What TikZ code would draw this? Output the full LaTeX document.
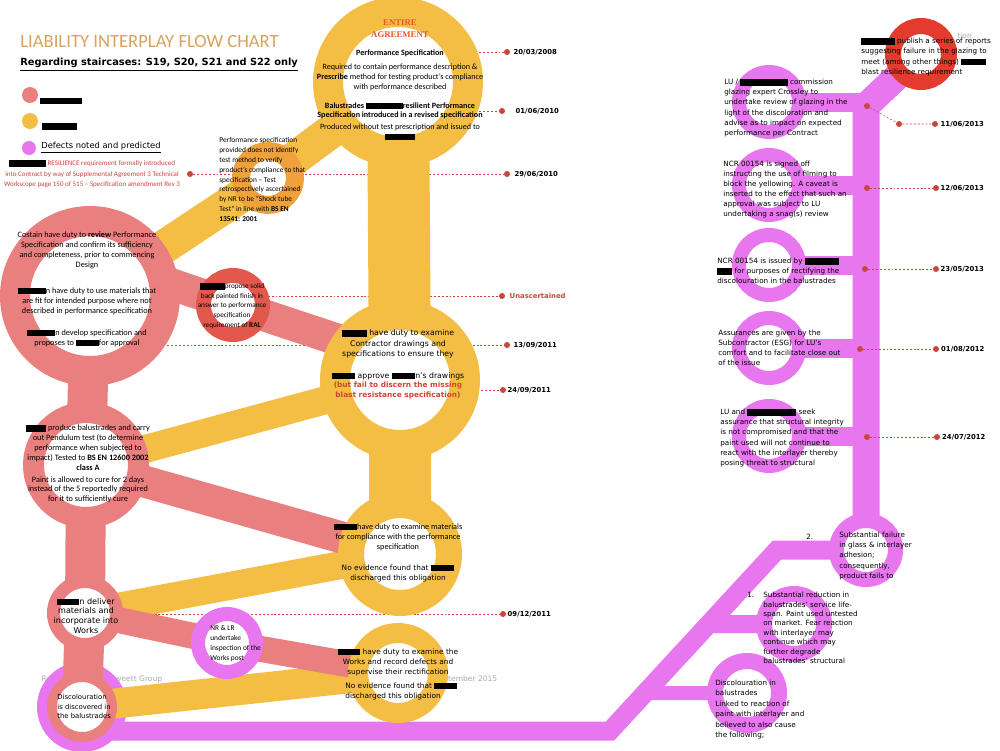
\documentclass[tikz,border=0pt]{standalone}
\usepackage{fontspec}
\setmainfont{Carlito}
\newfontfamily\verd{DejaVu Sans}
\newfontfamily\tms{Liberation Serif}
\usetikzlibrary{positioning,calc}
\definecolor{salmon}{HTML}{EA7F7F}
\definecolor{amber}{HTML}{F4BE45}
\definecolor{magen}{HTML}{E776EF}
\definecolor{redring}{HTML}{E33B2D}
\definecolor{redsmall}{HTML}{E2584C}
\definecolor{orng}{HTML}{EFA23C}
\definecolor{tan}{HTML}{D9A25E}
\definecolor{datered}{HTML}{C9463C}
\definecolor{warnred}{HTML}{D8412F}
\definecolor{wmark}{HTML}{ABABAB}
\definecolor{agree}{HTML}{E2592B}
\newcommand{\redact}[1]{{\color{black}\rule[-0.25mm]{#1}{1.35mm}}}
\pgfdeclarelayer{under}
\pgfdeclarelayer{bands}
\pgfsetlayers{under,bands,main}
\tikzset{
    ring/.style n args={3}{circle, draw=#1, fill=white, minimum size=(#2+#3)*0.2mm, line width=(#2-#3)*0.2mm, inner sep=0pt, outer sep=0pt},
    blob/.style 2 args={circle, fill=#1, minimum size=#2*0.4mm, inner sep=0pt, outer sep=0pt},
    yband/.style={draw=amber, line width=#1*0.2mm},
    sband/.style={draw=salmon, line width=#1*0.2mm},
    mband/.style={draw=magen, line width=#1*0.2mm},
    lead/.style={draw=datered, dash pattern=on 1.1pt off 1.1pt, line width=0.3pt},
    dot/.style={circle, fill=datered, minimum size=1.2mm, inner sep=0pt},
    datetxt/.style={anchor=west, inner sep=0pt, font=\verd\bfseries\fontsize{3.9}{5}\selectfont},
    cal/.style 2 args={inner sep=0pt, align=center, font=\fontsize{#1}{#2}\selectfont},
    calb/.style 2 args={inner sep=0pt, align=center, font=\bfseries\fontsize{#1}{#2}\selectfont},
    ver/.style 2 args={inner sep=0pt, align=center, font=\verd\fontsize{#1}{#2}\selectfont},
    verbold/.style 2 args={inner sep=0pt, align=center, font=\verd\bfseries\fontsize{#1}{#2}\selectfont},
    rtxt/.style={ver={4.1}{5.7}, align=left, anchor=west}
}
\begin{document}
\begin{tikzpicture}[x=0.2mm, y=-0.2mm]
        \useasboundingbox (0,0) rectangle (1000,750);

        % Title and legend
        \node (title) [anchor=west, inner sep=0pt, text=tan, font=\fontsize{10.6}{12}\selectfont] at (20,42) {LIABILITY INTERPLAY FLOW CHART};
        \node (subtitle) [anchor=west, inner sep=0pt, font=\verd\bfseries\fontsize{5.6}{6}\selectfont] at (20,65) {\underline{Regarding staircases: S19, S20, S21 and S22 only}};
        \node (leg_sal) [blob={salmon}{8}] at (30,95) {};
        \node (leg_amb) [blob={amber}{8}] at (30,121) {};
        \node (leg_mag) [blob={magen}{7}] at (29,148) {};
        \node (leg_sal_txt) [anchor=west, inner sep=0pt] at (40,101) {\redact{8.4mm}};
        \node (leg_amb_txt) [anchor=west, inner sep=0pt] at (42,126.5) {\redact{7mm}};
        \node (leg_mag_txt) [anchor=west, inner sep=0pt, font=\verd\fontsize{4.75}{6}\selectfont] at (41,148) {\underline{Defects noted and predicted}};

        % Amber rings
        \node (top_ring) [ring={amber}{85}{55}] at (398,82) {};
        \node (exam_ring) [ring={amber}{80}{50}] at (400,380) {};
        \node (mat_ring) [ring={amber}{62}{36}] at (400,554) {};
        \node (works_ring) [ring={amber}{50}{30}] at (398,673) {};
        \node (spec_ring) [ring={orng}{36}{18}] at (268,178) {};

        % Salmon rings
        \node (review_ring) [ring={salmon}{90}{60}] at (90,296) {};
        \node (prod_ring) [ring={salmon}{63}{42}] at (86,465) {};
        \node (deliver_ring) [ring={salmon}{38}{25}] at (85,613) {};
        \node (disc_ring) [ring={salmon}{35}{25}] at (82,707) {};
        \node (ral_ring) [ring={redsmall}{37}{22}] at (233,305) {};

        % Magenta rings
        \node (nrlr_ring) [ring={magen}{36}{22}] at (227,643) {};
        \node (luc_ring) [ring={magen}{37}{23}] at (769,102) {};
        \node (signed_ring) [ring={magen}{37}{23}] at (769,185) {};
        \node (issued_ring) [ring={magen}{37}{23}] at (769,265) {};
        \node (assur_ring) [ring={magen}{37}{23}] at (769,348) {};
        \node (seek_ring) [ring={magen}{37}{23}] at (769,436) {};
        \node (fail_ring) [ring={magen}{37}{22}] at (866,550) {};
        \node (reduce_ring) [ring={magen}{38}{22}] at (794,624) {};
        \node (discb_ring) [ring={magen}{40}{24}] at (747,693) {};
        \node (report_ring) [ring={redring}{36}{20}] at (921,54) {};

        % Texts of the amber rings
        \node (agree_txt) [align=center, inner sep=0pt, text=agree, font=\tms\bfseries\fontsize{5}{6.8}\selectfont] at (400,29) {ENTIRE\\AGREEMENT};
        \node (top_txt1) [calb={4.6}{5.7}] at (400,53) {Performance Specification};
        \node (top_txt2) [cal={4.6}{5.7}] at (400,77) {Required to contain performance description \&\\\textbf{Prescribe} method for testing product’s compliance\\with performance described};
        \node (top_txt3) [calb={4.6}{5.1}] at (400,110.5) {Balustrades \redact{7.4mm}resilient Performance\\Specification introduced in a revised specification};
        \node (top_txt4) [cal={4.6}{5.7}] at (400,132) {Produced without test prescription and issued to\\\redact{6mm}};
        \node (spec_txt) [cal={4.2}{5.65}, align=left, anchor=west] at (219,179.5) {Performance specification\\provided does not identify\\test method to verify\\product’s compliance to that\\specification – Test\\retrospectively ascertained\\by NR to be “Shock tube\\Test” in line with \textbf{BS EN}\\\textbf{13541: 2001}};
        \node (exam_txt1) [ver={4.4}{5.9}] at (398,344) {\redact{5mm} have duty to examine\\Contractor drawings and\\specifications to ensure they};
        \node (exam_txt2) [ver={4.4}{5.9}] at (398,376) {\redact{4.7mm} approve \redact{4.7mm}n’s drawings};
        \node (exam_txt3) [verbold={4.2}{5.2}, text=warnred] at (398,390.5) {(but fail to discern the missing\\blast resistance specification)};
        \node (mat_txt1) [cal={4.7}{5.7}] at (398,537) {\redact{4.7mm}have duty to examine materials\\for compliance with the performance\\specification};
        \node (mat_txt2) [ver={4.2}{5.7}] at (398,573) {No evidence found that \redact{4.7mm}\\discharged this obligation};
        \node (works_txt1) [ver={4.2}{5.7}] at (398,662) {\redact{4.5mm} have duty to examine the\\Works and record defects and\\supervise their rectification};
        \node (works_txt2) [ver={4.2}{5.7}, align=left, anchor=west] at (345,691) {No evidence found that \redact{4.5mm}\\discharged this obligation};

        % Texts of the salmon rings
        \node (resil_txt) [cal={4}{6}, text=datered] at (92,174) {\redact{7.4mm} RESILIENCE requirement formally introduced\\into Contract by way of Supplemental Agreement 3 Technical\\Workscope page 150 of 515 – Specification amendment Rev 3};
        \node (review_txt1) [cal={4.7}{5.7}] at (87,250) {Costain have duty to \textbf{review} Performance\\Specification and confirm its sufficiency\\and completeness, prior to commencing\\Design};
        \node (review_txt2) [cal={4.7}{5.7}] at (87,301) {\redact{5.6mm}n have duty to use materials that\\are fit for intended purpose where not\\described in performance specification};
        \node (review_txt3) [cal={4.7}{5.7}] at (87,338) {\redact{5.6mm}n develop specification and\\proposes to \redact{4.6mm}for approval};
        \node (ral_txt) [cal={4.1}{5.5}] at (232,305.5) {\redact{5mm}propose solid\\back painted finish in\\answer to performance\\specification\\requirement of \textbf{RAL}};
        \node (prod_txt1) [cal={4.7}{5.6}] at (88,447.5) {\redact{4mm} produce balustrades and carry\\out Pendulum test (to determine\\performance when subjected to\\impact) Tested to \textbf{BS EN 12600 2002}\\\textbf{class A}};
        \node (prod_txt2) [cal={4.7}{5.5}] at (88,489.5) {Paint is allowed to cure for 2 days\\instead of the 5 reportedly required\\for it to sufficiently cure};
        \node (deliver_txt) [ver={4.6}{5.5}] at (86,615.5) {\redact{4.4mm}n deliver\\materials and\\incorporate into\\Works};
        \node (disc_txt) [ver={3.9}{5.4}, align=left, anchor=west] at (57,706.5) {Discolouration\\is discovered in\\the balustrades};

        % Texts of the magenta rings
        \node (nrlr_txt) [cal={4.2}{5.7}, align=left, anchor=west] at (210,644) {NR \& LR\\undertake\\inspection of the\\Works post};
        \node (report_txt) [rtxt] at (861,57) {\redact{6.7mm} publish a series of reports\\suggesting failure in the glazing to\\meet (among other things) \redact{4.9mm}\\blast resilience requirement};
        \node (luc_txt) [rtxt] at (724,108) {LU / \redact{9.5mm} commission\\glazing expert Crossley to\\undertake review of glazing in the\\light of the discoloration and\\advise as to impact on expected\\performance per Contract};
        \node (signed_txt) [rtxt] at (723,189.5) {NCR 00154 is signed off\\instructing the use of filming to\\block the yellowing. A caveat is\\inserted to the effect that such an\\approval was subject to LU\\undertaking a snag(s) review};
        \node (issued_txt) [rtxt] at (717,271) {NCR 00154 is issued by \redact{6.8mm}\\\redact{3mm} for purposes of rectifying the\\discolouration in the balustrades};
        \node (assur_txt) [rtxt] at (718,348) {Assurances are given by the\\Subcontractor (ESG) for LU’s\\comfort and to facilitate close out\\of the issue};
        \node (seek_txt) [rtxt] at (720,438) {LU and \redact{9.8mm} seek\\assurance that structural integrity\\is not compromised and that the\\paint used will not continue to\\react with the interlayer thereby\\posing threat to structural};
        \node (num2) [rtxt] at (806,537) {2.};
        \node (fail_txt) [rtxt] at (839,556) {Substantial failure\\in glass \& interlayer\\adhesion;\\consequently,\\product fails to};
        \node (num1) [rtxt] at (747,595) {1.};
        \node (reduce_txt) [ver={4.1}{5.36}, align=left, anchor=west] at (763,628) {Substantial reduction in\\balustrades’ service life-\\span. Paint used untested\\on market. Fear reaction\\with interlayer may\\continue which may\\further degrade\\balustrades’ structural};
        \node (discb_txt) [ver={4.1}{6}, align=left, anchor=west] at (715,709.5) {Discolouration in\\balustrades\\Linked to reaction of\\paint with interlayer and\\believed to also cause\\the following;};

        % Dates
        \node (d_res) [dot] at (190,174) {};
        \node (d_2008) [dot] at (507,52) {};
        \node (d_0106) [dot] at (502,111) {};
        \node (d_2906) [dot] at (507,174) {};
        \node (d_unasc) [dot] at (502,296) {};
        \node (d_1309) [dot] at (507,345) {};
        \node (d_2409) [dot] at (503,390) {};
        \node (d_0912) [dot] at (503,614) {};
        \node (t_2008) [datetxt, right=0.6mm of d_2008] {20/03/2008};
        \node (t_0106) [datetxt, right=2mm of d_0106] {01/06/2010};
        \node (t_2906) [datetxt, right=0.8mm of d_2906] {29/06/2010};
        \node (t_unasc) [datetxt, right=0.8mm of d_unasc, text=datered] {Unascertained};
        \node (t_1309) [datetxt, right=0.6mm of d_1309] {13/09/2011};
        \node (t_2409) [datetxt, right=0.2mm of d_2409] {24/09/2011};
        \node (t_0912) [datetxt, right=0.2mm of d_0912] {09/12/2011};
        \node (s_1106) [dot] at (867,106) {};
        \node (m_1106) [dot] at (899,124) {};
        \node (d_1106) [dot] at (935,124) {};
        \node (s_1206) [dot] at (867,188) {};
        \node (d_1206) [dot] at (936,188) {};
        \node (s_2305) [dot] at (865,269) {};
        \node (d_2305) [dot] at (936,269) {};
        \node (s_0108) [dot] at (860,349) {};
        \node (d_0108) [dot] at (936,349) {};
        \node (s_2407) [dot] at (867,437) {};
        \node (d_2407) [dot] at (937,437) {};
        \node (t_1106) [datetxt, right=0.4mm of d_1106] {11/06/2013};
        \node (t_1206) [datetxt, right=0.2mm of d_1206] {12/06/2013};
        \node (t_2305) [datetxt, right=0.2mm of d_2305] {23/05/2013};
        \node (t_0108) [datetxt, right=0.3mm of d_0108] {01/08/2012};
        \node (t_2407) [datetxt, right=0.3mm of d_2407] {24/07/2012};

        % Leader lines and footer bits under everything
        \begin{pgfonlayer}{under}
        \fill[white] (0,0) rectangle (1000,750);
        \node (wm1) [anchor=west, inner sep=0pt, text=wmark, font=\verd\fontsize{4.3}{5}\selectfont] at (41,679) {Re};
        \node (wm2) [anchor=west, inner sep=0pt, text=wmark, font=\verd\fontsize{4.3}{5}\selectfont] at (115,679) {weett Group};
        \node (wm3) [anchor=west, inner sep=0pt, text=wmark, font=\verd\fontsize{4.3}{5}\selectfont] at (443,679) {ptember 2015};
        \node (wm4) [anchor=west, inner sep=0pt, text=wmark, font=\verd\fontsize{4.3}{5}\selectfont] at (957,36) {tion};
        \draw[lead] (top_ring.center |- d_2008) -- (d_2008);
        \draw[lead] (top_ring.center |- d_0106) -- (d_0106);
        \draw[lead] (d_res) -- (d_2906);
        \draw[lead] (ral_ring.center |- d_unasc) -- (d_unasc);
        \draw[lead] (review_ring.center |- d_1309) -- (d_1309);
        \draw[lead] (exam_ring.center |- d_2409) -- (d_2409);
        \draw[lead] (deliver_ring.center |- d_0912) -- (d_0912);
        \end{pgfonlayer}

        % Bands
        \begin{pgfonlayer}{bands}
        \node (disc_mag) [blob={magen}{45}] at (82,707) {};
        \coordinate (m_bend1) at (610,731);
        \coordinate (m_bend2) at (777,550);
        \coordinate (spine_top) at (866,106);
        \draw[mband=19] (disc_mag.center |- m_bend1) -- (m_bend1) -- (m_bend2) -- (fail_ring.center);
        \draw[mband=14] (discb_ring.center) -- (intersection of m_bend1--m_bend2 and discb_ring.center--discb_ring.west);
        \draw[mband=18] (reduce_ring.center) -- (intersection of m_bend1--m_bend2 and reduce_ring.center--reduce_ring.west);
        \draw[mband=27] (fail_ring.center) -- (spine_top) -- (report_ring.center);
        \foreach \nm in {luc,signed,issued,assur,seek}
            \draw[mband=19] (\nm_ring.center) -- (\nm_ring.center -| spine_top);

        \draw[yband=62] (top_ring.center) -- (exam_ring.center) -- (mat_ring.center);
        \draw[yband=34] (top_ring.center) -- (spec_ring.center) -- (review_ring.center);
        \draw[yband=28] (exam_ring.center) -- (prod_ring.center);
        \draw[yband=28] (mat_ring.center) -- (deliver_ring.center);
        \draw[yband=30] (works_ring.center) -- (disc_ring.center);

        \draw[sband=40] (review_ring.center) -- (prod_ring.center) -- (deliver_ring.center) -- (disc_ring.center);
        \draw[sband=32] (review_ring.11) -- (ral_ring.center) -- (exam_ring.145);
        \draw[sband=32] (prod_ring.center) -- (mat_ring.center);
        \draw[sband=26] (deliver_ring.center) -- (nrlr_ring.center) -- (works_ring.center);

        \draw[lead] (s_1106) -- (m_1106) -- (d_1106);
        \draw[lead] (s_1206) -- (d_1206);
        \draw[lead] (s_2305) -- (d_2305);
        \draw[lead] (s_0108) -- (d_0108);
        \draw[lead] (s_2407) -- (d_2407);
        \end{pgfonlayer}

\end{tikzpicture}
\end{document}
